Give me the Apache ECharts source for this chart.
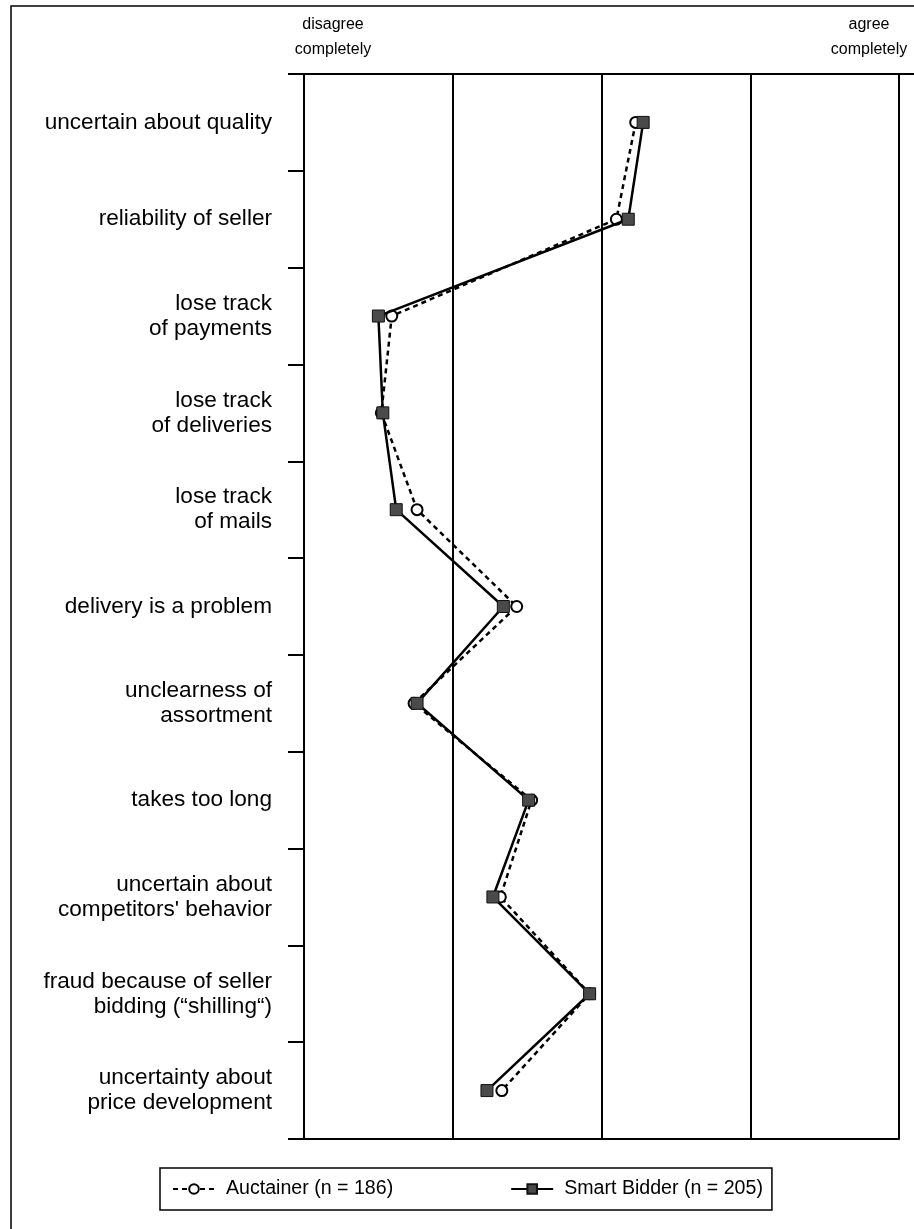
<!DOCTYPE html>
<html>
<head>
<meta charset="utf-8">
<script src="https://cdn.jsdelivr.net/npm/echarts@6/dist/echarts.min.js"></script>
<style>
html,body{margin:0;padding:0;background:#fff;}
#chart{width:914px;height:1229px;}
</style>
</head>
<body>
<div id="chart"></div>
<script>
const categories = [
  'uncertain about quality',
  'reliability of seller',
  'lose track\nof payments',
  'lose track\nof deliveries',
  'lose track\nof mails',
  'delivery is a problem',
  'unclearness of\nassortment',
  'takes too long',
  'uncertain about\ncompetitors\' behavior',
  'fraud because of seller\nbidding (\u201Cshilling\u201C)',
  'uncertainty about\nprice development'
];
const auctainer   = [3.23, 3.10, 1.59, 1.52, 1.76, 2.43, 1.74, 2.53, 2.32, 2.92, 2.33];
const smartBidder = [3.28, 3.18, 1.50, 1.53, 1.62, 2.34, 1.76, 2.51, 2.27, 2.92, 2.23];
const scaleMin = 1, scaleMax = 5;
const scaleEndLabels = ['disagree\ncompletely', 'agree\ncompletely'];
const seriesNames = ['Auctainer (n = 186)', 'Smart Bidder (n = 205)'];

const FONT = 'Liberation Sans, Arial, sans-serif';
const chart = echarts.init(document.getElementById('chart'), null, {renderer: 'canvas'});
chart.setOption({
  animation: false,
  backgroundColor: '#fff',
  textStyle: {fontFamily: FONT, color: '#000'},
  grid: {left: 304, right: 15, top: 74, bottom: 90, containLabel: false},
  xAxis: [
    {
      type: 'value', min: scaleMin, max: scaleMax, interval: 1, position: 'bottom',
      axisLine: {show: true, lineStyle: {color: '#000', width: 2}},
      axisTick: {show: false}, axisLabel: {show: false},
      splitLine: {show: true, lineStyle: {color: '#000', width: 2}}
    },
    {
      type: 'value', min: scaleMin, max: scaleMax, interval: 1, position: 'top',
      axisLine: {show: true, lineStyle: {color: '#000', width: 2}},
      axisTick: {show: false}, axisLabel: {show: false}, splitLine: {show: false}
    }
  ],
  yAxis: {
    type: 'category', data: categories, inverse: true,
    axisLine: {show: true, lineStyle: {color: '#000', width: 2}},
    axisTick: {show: true, length: 16, lineStyle: {color: '#000', width: 2}},
    axisLabel: {fontSize: 22.6, color: '#000', margin: 32, lineHeight: 25, fontFamily: FONT, align: 'right'},
    splitLine: {show: false}
  },
  legend: {
    left: 160, top: 1168,
    borderColor: '#000', borderWidth: 1.5,
    padding: [11, 9, 11, 12],
    itemGap: 117, itemWidth: 42, itemHeight: 12,
    textStyle: {fontSize: 19.6, color: '#000', fontFamily: FONT, padding: [0, 0, 0, 6]},
    data: seriesNames
  },
  graphic: [
    {type: 'rect', shape: {x: 11, y: 6, width: 1000, height: 1400}, style: {fill: 'none', stroke: '#000', lineWidth: 1.5}, silent: true},
    {type: 'line', shape: {x1: 898, y1: 74, x2: 914, y2: 74}, style: {stroke: '#000', lineWidth: 2}, silent: true},
    {type: 'text', x: 333, y: 12, style: {text: scaleEndLabels[0], fontSize: 16, fontFamily: FONT, fill: '#000', align: 'center', verticalAlign: 'top', lineHeight: 25}},
    {type: 'text', x: 869, y: 12, style: {text: scaleEndLabels[1], fontSize: 16, fontFamily: FONT, fill: '#000', align: 'center', verticalAlign: 'top', lineHeight: 25}}
  ],
  series: [
    {
      name: seriesNames[0], type: 'line', data: auctainer,
      symbol: 'circle', symbolSize: 11,
      itemStyle: {color: '#fff', borderColor: '#000', borderWidth: 2},
      lineStyle: {color: '#000', width: 2.5, type: [5, 4]},
      z: 3
    },
    {
      name: seriesNames[1], type: 'line', data: smartBidder,
      symbol: 'rect', symbolSize: 12,
      itemStyle: {color: '#4a4a4a', borderColor: '#111', borderWidth: 1},
      lineStyle: {color: '#000', width: 2.5, type: 'solid'},
      z: 4
    }
  ]
});
</script>
</body>
</html>
